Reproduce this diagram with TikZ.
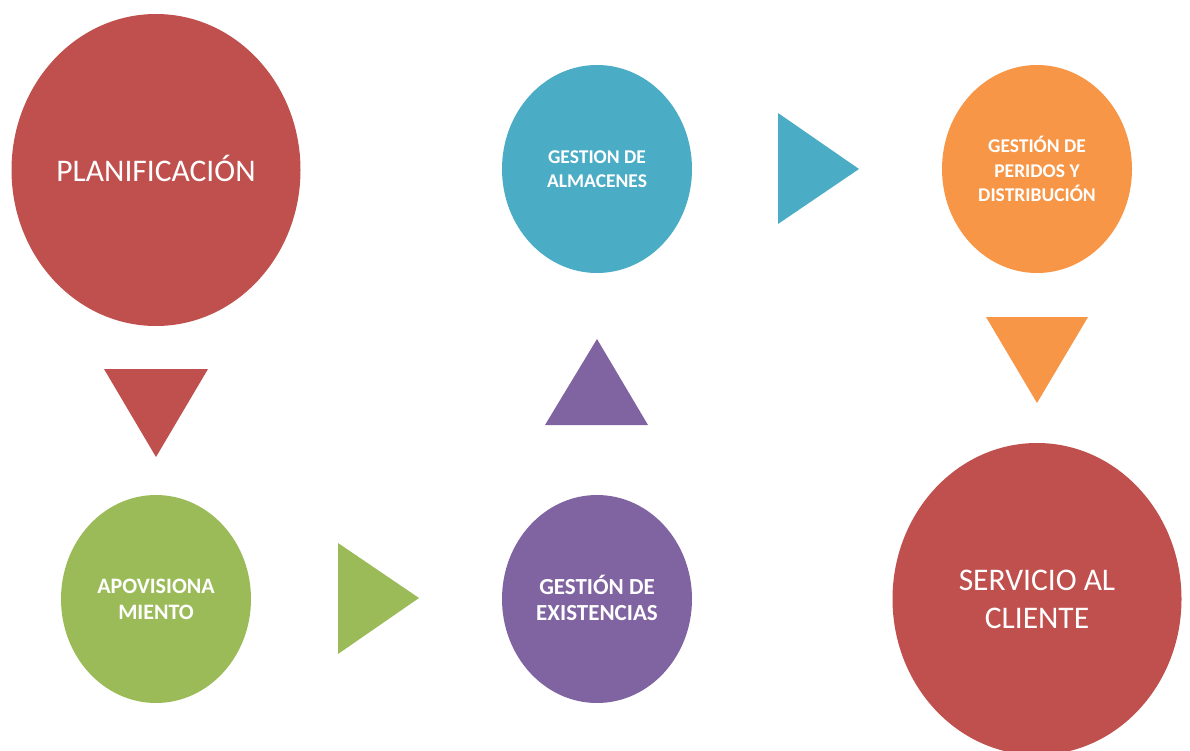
\documentclass[tikz,border=0pt]{standalone}
\usepackage{fontspec}
\setmainfont{Carlito}
\usetikzlibrary{shapes.geometric}
\definecolor{stepred}{HTML}{C0504D}
\definecolor{stepgreen}{HTML}{9BBB59}
\definecolor{steppurple}{HTML}{8064A2}
\definecolor{stepblue}{HTML}{4BACC6}
\definecolor{steporange}{HTML}{F79646}
\tikzset{stage/.style={ellipse, fill=#1, inner sep=0pt, text=white, align=center},
         bigstage/.style={minimum width=289, minimum height=312, font=\fontsize{31.5}{38}\selectfont},
         smallstage/.style={minimum width=190, minimum height=208, font=\bfseries\fontsize{19.5}{24.5}\selectfont}}

\begin{document}
\begin{tikzpicture}[x=1pt, y=-1pt]
            \useasboundingbox (0, 0) rectangle (1190, 751);
            \node[stage=stepred, bigstage] (plan) at (156, 170) {\raisebox{3pt}{PLANIFICACIÓN}};
            \node[stage=stepgreen, smallstage, font=\bfseries\fontsize{22}{26}\selectfont] (aprov) at (156, 599) {APOVISIONA\\MIENTO};
            \node[stage=steppurple, smallstage, font=\bfseries\fontsize{23}{26}\selectfont] (exist) at (597, 599) {\raisebox{3pt}{GESTIÓN DE}\\\raisebox{3pt}{EXISTENCIAS}};
            \node[stage=stepblue, smallstage] (almac) at (597, 169) {GESTION DE\\ALMACENES};
            \node[stage=steporange, smallstage] (pedid) at (1037, 169) {GESTIÓN DE\\PERIDOS Y\\DISTRIBUCIÓN};
            \node[stage=stepred, bigstage] (cliente) at (1037, 599) {SERVICIO AL\\CLIENTE};
            % triangles between the stages
            \fill[stepred] (104, 369) -- (208, 369) -- (156, 457) -- cycle;
            \fill[stepgreen] (338, 543) -- (419, 598) -- (338, 654) -- cycle;
            \fill[steppurple] (545, 425) -- (597, 339) -- (648, 425) -- cycle;
            \fill[stepblue] (778, 113) -- (859, 169) -- (778, 224) -- cycle;
            \fill[steporange] (986, 317) -- (1088, 317) -- (1037, 403) -- cycle;
        \end{tikzpicture}
\end{document}
